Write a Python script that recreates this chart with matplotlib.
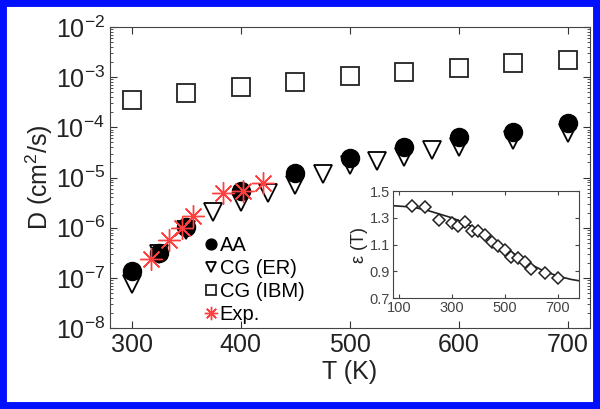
import matplotlib
matplotlib.use('Agg')
import matplotlib.pyplot as plt
import numpy as np
from matplotlib.ticker import FixedLocator, FuncFormatter, LogLocator, NullFormatter
from matplotlib.patches import Rectangle

plt.rcParams['font.family'] = ['Liberation Sans', 'DejaVu Sans']
plt.rcParams['mathtext.fontset'] = 'custom'
plt.rcParams['mathtext.rm'] = 'Liberation Sans'
plt.rcParams['mathtext.it'] = 'Liberation Sans'

# main panel data
T_aa = [300, 325, 350, 400, 450, 500, 550, 600, 650, 700]
D_aa = [1.4e-7, 3.2e-7, 1.05e-6, 5.5e-6, 1.25e-5, 2.5e-5, 4.0e-5, 6.3e-5, 8.0e-5, 1.2e-4]

T_er = [300, 325, 350, 375, 400, 425, 450, 475, 500, 525, 550, 575, 600, 650, 700]
D_er = [7.5e-8, 3.0e-7, 9.0e-7, 2.1e-6, 3.3e-6, 5.0e-6, 7.0e-6, 1.2e-5, 1.8e-5, 2.1e-5,
        2.6e-5, 3.5e-5, 4.0e-5, 5.6e-5, 7.6e-5]

T_ibm = [300, 350, 400, 450, 500, 550, 600, 650, 700]
D_ibm = [3.5e-4, 4.8e-4, 6.3e-4, 8.0e-4, 1.05e-3, 1.26e-3, 1.5e-3, 1.9e-3, 2.2e-3]

T_exp = [318, 334, 346, 356, 384, 402, 420]
D_exp = [2.4e-7, 5.7e-7, 1.0e-6, 1.7e-6, 4.8e-6, 5.3e-6, 7.6e-6]

# inset data
T_eps = [150, 200, 250, 300, 325, 350, 375, 400, 425, 450, 475, 500, 525, 550, 575, 600, 650, 700]
eps = [1.39, 1.38, 1.28, 1.26, 1.24, 1.27, 1.20, 1.20, 1.17, 1.12, 1.09, 1.06, 1.01, 1.00,
       0.97, 0.92, 0.89, 0.85]
T_fit = [80, 150, 200, 250, 300, 350, 400, 450, 500, 550, 600, 650, 700, 750, 780]
eps_fit = [1.39, 1.38, 1.36, 1.33, 1.30, 1.26, 1.21, 1.15, 1.08, 1.01, 0.95, 0.90, 0.865, 0.84, 0.83]

fig = plt.figure(figsize=(6, 4.09), dpi=100)
ax = fig.add_axes([0.183, 0.198, 0.8, 0.736])

ax.plot(T_er, D_er, 'v', ms=13, mfc='white', mec='black', mew=1.3, ls='none', zorder=3, label='CG (ER)')
ax.plot(T_ibm, D_ibm, 's', ms=13, mfc='white', mec='#222222', mew=1.3, ls='none', zorder=3, label='CG (IBM)')
ax.plot(T_aa, D_aa, 'o', ms=13, mfc='black', mec='black', ls='none', zorder=4, label='AA')
ax.plot(T_exp, D_exp, marker=(8, 2, 0), ms=16, mec='#ff4040', mew=1.0, ls='none', zorder=5, label='Exp.')

ax.set_yscale('log')
ax.set_xlim(280, 720)
ax.set_ylim(1e-8, 1e-2)
ax.xaxis.set_major_locator(FixedLocator([300, 400, 500, 600, 700]))
ax.yaxis.set_major_locator(LogLocator(base=10, numticks=10))
ax.yaxis.set_minor_locator(LogLocator(base=10, subs=np.arange(2, 10), numticks=10))
ax.yaxis.set_minor_formatter(NullFormatter())
ax.yaxis.set_major_formatter(FuncFormatter(lambda v, p: r'$\mathregular{10^{%d}}$' % round(np.log10(v))))
ax.tick_params(which='both', direction='in', top=True, right=True, labelsize=18, colors='#333333')
ax.tick_params(which='major', length=5, labelcolor='#222222')
ax.tick_params(which='minor', length=2.5)
for s in ax.spines.values():
    s.set_color('#444444')
ax.set_xlabel('T (K)', fontsize=18, color='#222222', labelpad=2)
ax.set_ylabel(r'D (cm$^2$/s)', fontsize=18, color='#222222', labelpad=0)

h, l = ax.get_legend_handles_labels()
order = [2, 0, 1, 3]
ax.legend([h[i] for i in order], [l[i] for i in order], loc='lower left',
          bbox_to_anchor=(0.17, -0.035), frameon=False, fontsize=14.5, markerscale=0.6,
          handlelength=0.5, handletextpad=0.2, labelspacing=0.2, borderpad=0.2)

# inset
ins = fig.add_axes([0.655, 0.271, 0.31, 0.262])
ins.plot(T_fit, eps_fit, '-', color='#222222', lw=1.2)
ins.plot(T_eps, eps, 'D', ms=6.5, mfc='white', mec='#222222', mew=1.1, ls='none')
ins.set_xlim(78, 780)
ins.set_ylim(0.7, 1.5)
ins.set_xticks([100, 300, 500, 700])
ins.set_yticks([0.7, 0.9, 1.1, 1.3, 1.5])
ins.tick_params(direction='in', top=True, right=True, labelsize=10.5, colors='#444444', length=3, pad=2)
for s in ins.spines.values():
    s.set_color('#444444')
ins.set_ylabel('ε (T)', fontsize=13, color='#222222', labelpad=1)

fig.patches.append(Rectangle((0, 0), 1, 1, transform=fig.transFigure, fill=False,
                             edgecolor='#0010ff', linewidth=10, zorder=10))

fig.savefig('out.png', dpi=100)
